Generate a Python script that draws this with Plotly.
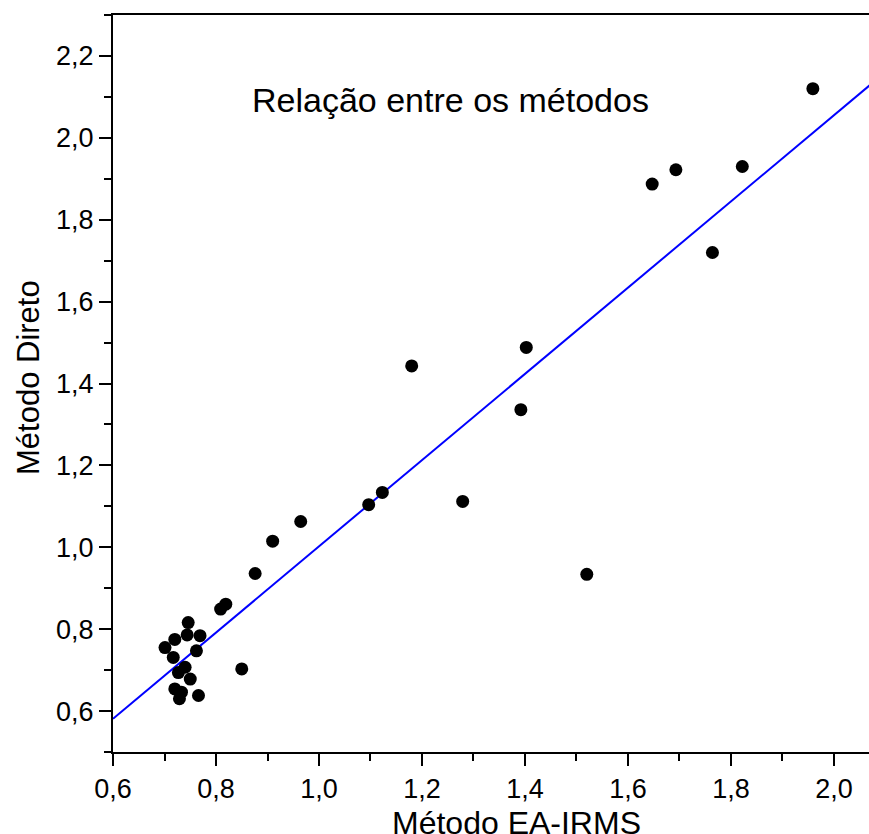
import plotly.graph_objects as go

# EA-IRMS method (x) vs direct method (y)
x_ea_irms = [1.959, 1.693, 1.647, 1.822, 1.764, 1.4025, 1.180, 1.392, 1.123, 1.0965,
             1.279, 1.520, 0.9645, 0.910, 0.876, 0.809, 0.819, 0.850,
             0.746, 0.769, 0.744, 0.720, 0.701, 0.762, 0.717, 0.740, 0.727,
             0.750, 0.720, 0.729, 0.766, 0.733]
y_direto = [2.120, 1.922, 1.887, 1.930, 1.720, 1.488, 1.443, 1.336, 1.134, 1.104,
            1.112, 0.934, 1.063, 1.015, 0.936, 0.849, 0.861, 0.703,
            0.816, 0.784, 0.786, 0.775, 0.755, 0.747, 0.731, 0.707, 0.694,
            0.678, 0.654, 0.630, 0.638, 0.646]

# linear fit line end points
fit_x = [0.6, 2.07]
fit_y = [0.581, 2.129]

x_range = [0.6, 2.068]
y_range = [0.5, 2.3]

FONT = "Arial, Liberation Sans, sans-serif"
TICKFONT = "Liberation Sans Narrow, Arial Narrow, Liberation Sans, sans-serif"

fig = go.Figure()
fig.add_trace(go.Scatter(x=fit_x, y=fit_y, mode="lines",
                         line=dict(color="#0000FF", width=2), showlegend=False))
fig.add_trace(go.Scatter(x=x_ea_irms, y=y_direto, mode="markers",
                         marker=dict(color="black", size=13, symbol="circle"),
                         showlegend=False))

axis_common = dict(showgrid=False, zeroline=False, showline=True, linecolor="black",
                   linewidth=2, ticks="outside", ticklen=12, tickwidth=2,
                   tickcolor="black", tickformat=".1f",
                   tickfont=dict(family=TICKFONT, size=27, color="black"))

fig.update_xaxes(range=x_range, dtick=0.2, tick0=0, mirror=True,
                 minor=dict(ticks="outside", ticklen=7, tickwidth=2, dtick=0.1, tick0=0,
                            tickcolor="black"),
                 **axis_common)
fig.update_yaxes(range=y_range, dtick=0.2, tick0=0, mirror=False,
                 minor=dict(ticks="outside", ticklen=7, tickwidth=2, dtick=0.1, tick0=0,
                            tickcolor="black"),
                 **axis_common)

W, H = 869, 834
ML, MR, MT, MB = 113, 0, 15, 82
pw, ph = W - ML - MR, H - MT - MB
def px(xp): return (xp - ML) / pw
def py(yp): return (H - MB - yp) / ph

fig.add_annotation(text="Relação entre os métodos", x=px(450), y=py(100),
                   xref="paper", yref="paper", xanchor="center", yanchor="middle",
                   showarrow=False, font=dict(family=FONT, size=34, color="black"))
fig.add_annotation(text="Método EA-IRMS", x=px(516), y=py(823),
                   xref="paper", yref="paper", xanchor="center", yanchor="middle",
                   showarrow=False, font=dict(family=FONT, size=32, color="black"))
fig.add_annotation(text="Método Direto", x=px(28), y=py(378),
                   xref="paper", yref="paper", xanchor="center", yanchor="middle",
                   showarrow=False, textangle=-90,
                   font=dict(family=FONT, size=31, color="black"))

fig.update_layout(width=W, height=H, margin=dict(l=ML, r=MR, t=MT, b=MB),
                  plot_bgcolor="white", paper_bgcolor="white", separators=",.")

fig.write_html("out.html")
